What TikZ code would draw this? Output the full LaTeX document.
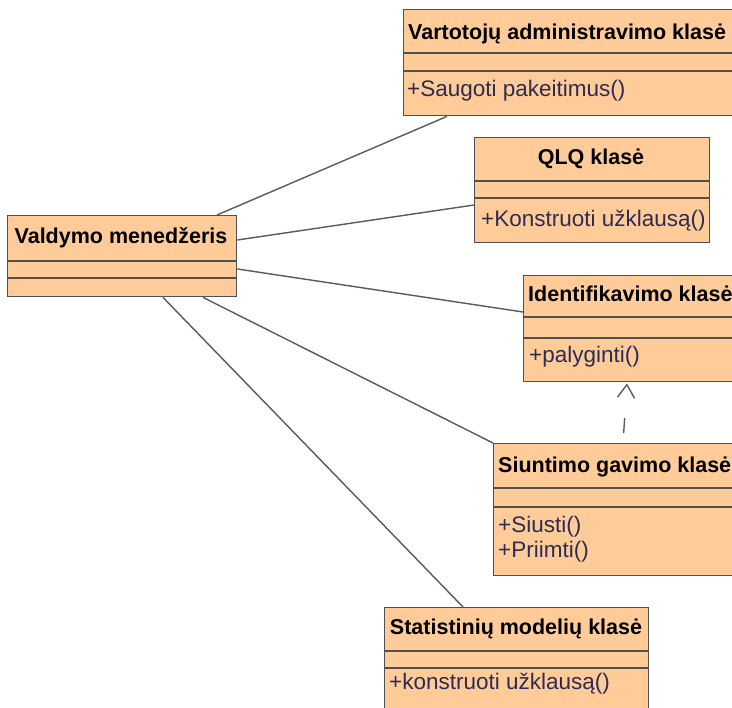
\documentclass[tikz,border=0pt]{standalone}
\usepackage{fontspec}
\setmainfont{Liberation Sans}
\usetikzlibrary{arrows.meta}
\definecolor{boxfill}{HTML}{FFCC99}
\definecolor{boxline}{HTML}{505050}
\definecolor{linkline}{HTML}{5A5A5A}
\definecolor{optext}{HTML}{2E2B52}
\tikzset{
  classbox/.style={draw=boxline, fill=boxfill, line width=1.4pt, inner sep=0pt, anchor=north west},
  sep/.style={draw=boxline, line width=1.4pt},
  title/.style={inner sep=0pt, font=\fontsize{21.5}{24}\selectfont\bfseries, text=black},
  op/.style={inner sep=0pt, anchor=base west, font=\fontsize{22.5}{25}\selectfont, text=optext},
  link/.style={draw=linkline, line width=1.4pt},
  dep/.style={draw=linkline, line width=1.4pt, dash pattern={on 15pt off 60pt}, dash phase=65pt,
    -{Straight Barb[length=13pt, width=17pt, line width=1.4pt]}}
}
\begin{document}
\begin{tikzpicture}[x=1pt, y=-1pt]
\fill[white] (0,0) rectangle (732,708);
\useasboundingbox (0,0) rectangle (732,708);
\clip (0,0) rectangle (732,708);

% class boxes
\node[classbox, minimum width=337pt, minimum height=106pt] (va) at (403,9) {};
\node[classbox, minimum width=235pt, minimum height=105pt] (qlq) at (474,137) {};
\node[classbox, minimum width=229pt, minimum height=81pt] (vm) at (7,215) {};
\node[classbox, minimum width=217pt, minimum height=106pt] (id) at (523,275) {};
\node[classbox, minimum width=247pt, minimum height=132pt] (sg) at (493,443) {};
\node[classbox, minimum width=264pt, minimum height=113pt] (st) at (384,607) {};

% compartment separators
\foreach \n/\a/\b in {va/44/62, qlq/44/61, vm/46/63, id/42/63, sg/45/64, st/44/61} {
  \draw[sep] ([yshift=-\a pt]\n.north west) -- ([yshift=-\a pt]\n.north east);
  \draw[sep] ([yshift=-\b pt]\n.north west) -- ([yshift=-\b pt]\n.north east);
}

% class names
\node[title, anchor=base west] (vat) at (408,40) {Vartotojų administravimo klasė};
\node[title, anchor=base] (qlqt) at (591,165) {QLQ klasė};
\node[title, anchor=base] (vmt) at (121,244) {Valdymo menedžeris};
\node[title, anchor=base west] (idt) at (528,302) {Identifikavimo klasė};
\node[title, anchor=base west] (sgt) at (498,473) {Siuntimo gavimo klasė};
\node[title, anchor=base] (stt) at (516,635) {Statistinių modelių klasė};

% operations
\node[op] (vao) at (407,97) {+Saugoti pakeitimus()};
\node[op] (qlqo) at (481,227) {+Konstruoti užklausą()};
\node[op] (ido) at (529,363) {+palyginti()};
\node[op] (sgo1) at (498,533) {+Siusti()};
\node[op] (sgo2) at (498,558) {+Priimti()};
\node[op] (sto) at (389,690) {+konstruoti užklausą()};

% associations
\draw[link] ([xshift=210pt]vm.north west) -- ([xshift=44pt]va.south west);
\draw[link] ([yshift=-25pt]vm.north east) -- ([yshift=-68pt]qlq.north west);
\draw[link] ([yshift=-54pt]vm.north east) -- ([yshift=-37pt]id.north west);
\draw[link] ([xshift=196pt]vm.south west) -- (sg.north west);
\draw[link] ([xshift=156pt]vm.south west) -- ([xshift=79pt]st.north west);

% dependency
\draw[dep] ([xshift=130pt]sg.north west) -- ([xshift=104pt, yshift=-1pt]id.south west);
\end{tikzpicture}
\end{document}
